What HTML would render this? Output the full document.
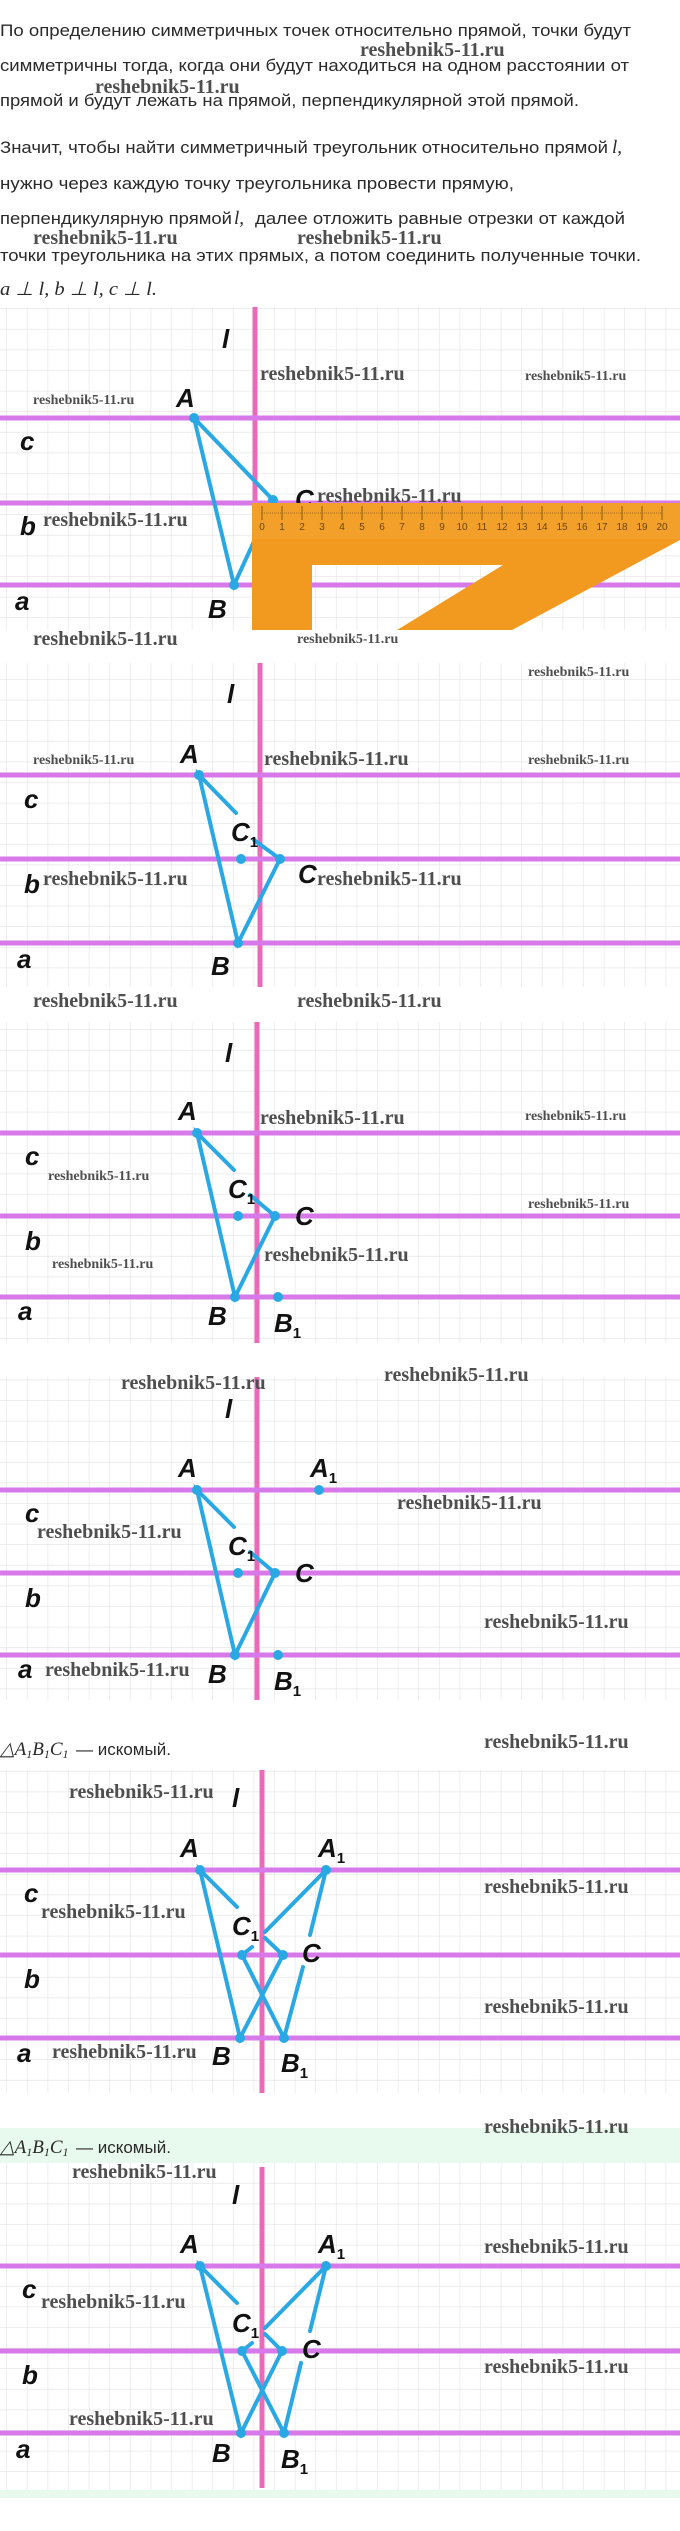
<!DOCTYPE html>
<html><head><meta charset="utf-8"><style>
html,body{margin:0;padding:0;background:#fff;}
svg{display:block;}
.t{font-family:"Liberation Sans",sans-serif;font-size:17px;fill:#2a2a2a;}
.m{font-family:"Liberation Serif",serif;font-style:italic;fill:#2a2a2a;}
.w{font-family:"Liberation Serif",serif;font-weight:bold;fill:#4e4e4e;}
.wb{font-size:20px;}
.ws{font-size:14px;}
.L{font-family:"Liberation Sans",sans-serif;font-style:italic;font-weight:bold;font-size:26px;fill:#111;}
.sub{font-size:15px;font-style:normal;}
.hl{stroke:#d779e8;stroke-width:5;}
.vl{stroke:#ea6ab9;stroke-width:5;}
.bl{stroke:#2aa8e3;stroke-width:4;stroke-linecap:round;fill:none;}
.dot{fill:#2aa8e3;}
</style></head><body>
<svg width="680" height="2531" viewBox="0 0 680 2531" xmlns="http://www.w3.org/2000/svg">
<defs>
<pattern id="g" x="7" y="0" width="20.6" height="20.6" patternUnits="userSpaceOnUse">
<path d="M20.6 0V20.6M0 20.6H20.6" stroke="#e2e2e2" stroke-width="1.2" fill="none"/>
</pattern>
</defs>
<rect width="680" height="2531" fill="#fff"/>
<text class="t" x="0" y="36" textLength="631" lengthAdjust="spacingAndGlyphs">По определению симметричных точек относительно прямой, точки будут</text>
<text class="w wb" x="360" y="56">reshebnik5-11.ru</text>
<text class="t" x="0" y="71" textLength="629" lengthAdjust="spacingAndGlyphs">симметричны тогда, когда они будут находиться на одном расстоянии от</text>
<text class="w wb" x="95" y="93">reshebnik5-11.ru</text>
<text class="t" x="0" y="106" textLength="579" lengthAdjust="spacingAndGlyphs">прямой и будут лежать на прямой, перпендикулярной этой прямой.</text>
<text class="t" x="0" y="153" textLength="608" lengthAdjust="spacingAndGlyphs">Значит, чтобы найти симметричный треугольник относительно прямой</text>
<text class="m" x="612" y="153" font-size="19">l,</text>
<text class="t" x="0" y="189" textLength="514" lengthAdjust="spacingAndGlyphs">нужно через каждую точку треугольника провести прямую,</text>
<text class="t" x="0" y="224" textLength="232" lengthAdjust="spacingAndGlyphs">перпендикулярную прямой</text>
<text class="m" x="234" y="224" font-size="19">l,</text>
<text class="t" x="255" y="224" textLength="370" lengthAdjust="spacingAndGlyphs">далее отложить равные отрезки от каждой</text>
<text class="w wb" x="33" y="244">reshebnik5-11.ru</text>
<text class="w wb" x="297" y="244">reshebnik5-11.ru</text>
<text class="t" x="0" y="261" textLength="641" lengthAdjust="spacingAndGlyphs">точки треугольника на этих прямых, а потом соединить полученные точки.</text>
<text class="m" x="0" y="295" font-size="19" textLength="157" lengthAdjust="spacingAndGlyphs">a ⊥ l, b ⊥ l, c ⊥ l.</text>

<!-- PANEL 1 -->
<rect x="0" y="307" width="680" height="323" fill="url(#g)"/>
<line class="vl" x1="255" y1="307" x2="255" y2="630"/>
<line class="hl" x1="0" y1="418" x2="680" y2="418"/>
<line class="hl" x1="0" y1="503" x2="680" y2="503"/>
<line class="hl" x1="0" y1="585" x2="680" y2="585"/>
<polyline class="bl" points="194,418 234,585 273,500 194,418"/>
<circle class="dot" cx="194" cy="418" r="5"/><circle class="dot" cx="234" cy="585" r="5"/><circle class="dot" cx="273" cy="500" r="5"/>
<text class="L" x="222" y="348">l</text>
<text class="L" x="176" y="407">A</text>
<text class="L" x="20" y="450">c</text>
<text class="L" x="295" y="508">C</text>
<text class="L" x="20" y="535">b</text>
<text class="L" x="15" y="610">a</text>
<text class="L" x="208" y="618">B</text>
<polygon points="252,503 680,503 680,540 512,630 397,630 503,565 312,565 312,630 252,630" fill="#f29a1f"/>
<rect x="252" y="503" width="428" height="36" fill="#f3a02a"/>
<path d="M262 506V520M282 506V520M302 506V520M322 506V520M342 506V520M362 506V520M382 506V520M402 506V520M422 506V520M442 506V520M462 506V520M482 506V520M502 506V520M522 506V520M542 506V520M562 506V520M582 506V520M602 506V520M622 506V520M642 506V520M662 506V520" stroke="#8a5a10" stroke-width="1"/>
<path d="M262 513H662" stroke="#a86c15" stroke-width="1" stroke-dasharray="1 1"/>
<g font-family="Liberation Sans,sans-serif" font-size="10" fill="#6a4508" text-anchor="middle">
<text x="262" y="530">0</text><text x="282" y="530">1</text><text x="302" y="530">2</text><text x="322" y="530">3</text><text x="342" y="530">4</text><text x="362" y="530">5</text><text x="382" y="530">6</text><text x="402" y="530">7</text><text x="422" y="530">8</text><text x="442" y="530">9</text><text x="462" y="530">10</text><text x="482" y="530">11</text><text x="502" y="530">12</text><text x="522" y="530">13</text><text x="542" y="530">14</text><text x="562" y="530">15</text><text x="582" y="530">16</text><text x="602" y="530">17</text><text x="622" y="530">18</text><text x="642" y="530">19</text><text x="662" y="530">20</text>
</g>
<text class="w wb" x="260" y="380">reshebnik5-11.ru</text>
<text class="w ws" x="525" y="380">reshebnik5-11.ru</text>
<text class="w ws" x="33" y="404">reshebnik5-11.ru</text>
<text class="w wb" x="317" y="502">reshebnik5-11.ru</text>
<text class="w wb" x="43" y="526">reshebnik5-11.ru</text>
<text class="w wb" x="33" y="645">reshebnik5-11.ru</text>
<text class="w ws" x="297" y="643">reshebnik5-11.ru</text>

<!-- PANEL 2 -->
<rect x="0" y="663" width="680" height="324" fill="url(#g)"/>
<line class="vl" x1="260" y1="663" x2="260" y2="987"/>
<line class="hl" x1="0" y1="775" x2="680" y2="775"/>
<line class="hl" x1="0" y1="859" x2="680" y2="859"/>
<line class="hl" x1="0" y1="943" x2="680" y2="943"/>
<polyline class="bl" points="236,813 199,775 238,943 280,859 254,840"/>
<circle class="dot" cx="199" cy="775" r="5"/><circle class="dot" cx="238" cy="943" r="5"/><circle class="dot" cx="280" cy="859" r="5"/><circle class="dot" cx="241" cy="859" r="5"/>
<text class="L" x="227" y="703">l</text>
<text class="L" x="180" y="763">A</text>
<text class="L" x="24" y="808">c</text>
<text class="L" x="231" y="841">C<tspan class="sub" dy="6">1</tspan></text>
<text class="L" x="298" y="883">C</text>
<text class="L" x="24" y="893">b</text>
<text class="L" x="17" y="968">a</text>
<text class="L" x="211" y="975">B</text>
<text class="w ws" x="528" y="676">reshebnik5-11.ru</text>
<text class="w ws" x="33" y="764">reshebnik5-11.ru</text>
<text class="w wb" x="264" y="765">reshebnik5-11.ru</text>
<text class="w ws" x="528" y="764">reshebnik5-11.ru</text>
<text class="w wb" x="43" y="885">reshebnik5-11.ru</text>
<text class="w wb" x="317" y="885">reshebnik5-11.ru</text>
<text class="w wb" x="33" y="1007">reshebnik5-11.ru</text>
<text class="w wb" x="297" y="1007">reshebnik5-11.ru</text>

<!-- PANEL 3 -->
<rect x="0" y="1022" width="680" height="321" fill="url(#g)"/>
<line class="vl" x1="257" y1="1022" x2="257" y2="1343"/>
<line class="hl" x1="0" y1="1133" x2="680" y2="1133"/>
<line class="hl" x1="0" y1="1216" x2="680" y2="1216"/>
<line class="hl" x1="0" y1="1297" x2="680" y2="1297"/>
<polyline class="bl" points="234,1170 197,1133 235,1297 275,1216 250,1195"/>
<circle class="dot" cx="197" cy="1133" r="5"/><circle class="dot" cx="235" cy="1297" r="5"/><circle class="dot" cx="275" cy="1216" r="5"/><circle class="dot" cx="238" cy="1216" r="5"/><circle class="dot" cx="278" cy="1297" r="5"/>
<text class="L" x="225" y="1062">l</text>
<text class="L" x="178" y="1120">A</text>
<text class="L" x="25" y="1165">c</text>
<text class="L" x="228" y="1198">C<tspan class="sub" dy="6">1</tspan></text>
<text class="L" x="295" y="1225">C</text>
<text class="L" x="25" y="1250">b</text>
<text class="L" x="18" y="1320">a</text>
<text class="L" x="208" y="1325">B</text>
<text class="L" x="274" y="1332">B<tspan class="sub" dy="6">1</tspan></text>
<text class="w wb" x="260" y="1124">reshebnik5-11.ru</text>
<text class="w ws" x="525" y="1120">reshebnik5-11.ru</text>
<text class="w ws" x="48" y="1180">reshebnik5-11.ru</text>
<text class="w ws" x="528" y="1208">reshebnik5-11.ru</text>
<text class="w wb" x="264" y="1261">reshebnik5-11.ru</text>
<text class="w ws" x="52" y="1268">reshebnik5-11.ru</text>

<!-- PANEL 4 -->
<rect x="0" y="1377" width="680" height="323" fill="url(#g)"/>
<line class="vl" x1="257" y1="1377" x2="257" y2="1700"/>
<line class="hl" x1="0" y1="1490" x2="680" y2="1490"/>
<line class="hl" x1="0" y1="1573" x2="680" y2="1573"/>
<line class="hl" x1="0" y1="1655" x2="680" y2="1655"/>
<polyline class="bl" points="234,1527 197,1490 235,1655 275,1573 250,1552"/>
<circle class="dot" cx="197" cy="1490" r="5"/><circle class="dot" cx="235" cy="1655" r="5"/><circle class="dot" cx="275" cy="1573" r="5"/><circle class="dot" cx="238" cy="1573" r="5"/><circle class="dot" cx="278" cy="1655" r="5"/><circle class="dot" cx="319" cy="1490" r="5"/>
<text class="L" x="225" y="1418">l</text>
<text class="L" x="178" y="1477">A</text>
<text class="L" x="310" y="1477">A<tspan class="sub" dy="6">1</tspan></text>
<text class="L" x="25" y="1522">c</text>
<text class="L" x="228" y="1555">C<tspan class="sub" dy="6">1</tspan></text>
<text class="L" x="295" y="1582">C</text>
<text class="L" x="25" y="1607">b</text>
<text class="L" x="18" y="1678">a</text>
<text class="L" x="208" y="1683">B</text>
<text class="L" x="274" y="1690">B<tspan class="sub" dy="6">1</tspan></text>
<text class="w wb" x="121" y="1389">reshebnik5-11.ru</text>
<text class="w wb" x="384" y="1381">reshebnik5-11.ru</text>
<text class="w wb" x="397" y="1509">reshebnik5-11.ru</text>
<text class="w wb" x="37" y="1538">reshebnik5-11.ru</text>
<text class="w wb" x="484" y="1628">reshebnik5-11.ru</text>
<text class="w wb" x="45" y="1676">reshebnik5-11.ru</text>
<text class="w wb" x="484" y="1748">reshebnik5-11.ru</text>
<text class="m" x="0" y="1755" font-size="19">△A<tspan font-size="12" dy="3">1</tspan><tspan dy="-3">B</tspan><tspan font-size="12" dy="3">1</tspan><tspan dy="-3">C</tspan><tspan font-size="12" dy="3">1</tspan></text>
<text class="t" x="76" y="1755" font-size="16">— искомый.</text>

<!-- PANEL 5 -->
<rect x="0" y="1770" width="680" height="323" fill="url(#g)"/>
<line class="vl" x1="262" y1="1770" x2="262" y2="2093"/>
<line class="hl" x1="0" y1="1870" x2="680" y2="1870"/>
<line class="hl" x1="0" y1="1955" x2="680" y2="1955"/>
<line class="hl" x1="0" y1="2038" x2="680" y2="2038"/>
<polyline class="bl" points="237,1907 200,1870 240,2038 283,1955 265,1938"/>
<line class="bl" x1="326" y1="1870" x2="265" y2="1932"/>
<line class="bl" x1="242" y1="1955" x2="252" y2="1947"/>
<line class="bl" x1="326" y1="1870" x2="310" y2="1935"/>
<line class="bl" x1="303" y1="1967" x2="284" y2="2038"/>
<line class="bl" x1="242" y1="1955" x2="284" y2="2038"/>
<circle class="dot" cx="200" cy="1870" r="5"/><circle class="dot" cx="240" cy="2038" r="5"/><circle class="dot" cx="283" cy="1955" r="5"/><circle class="dot" cx="242" cy="1955" r="5"/><circle class="dot" cx="284" cy="2038" r="5"/><circle class="dot" cx="326" cy="1870" r="5"/>
<text class="L" x="232" y="1807">l</text>
<text class="L" x="180" y="1857">A</text>
<text class="L" x="318" y="1857">A<tspan class="sub" dy="6">1</tspan></text>
<text class="L" x="24" y="1902">c</text>
<text class="L" x="232" y="1935">C<tspan class="sub" dy="6">1</tspan></text>
<text class="L" x="302" y="1962">C</text>
<text class="L" x="24" y="1988">b</text>
<text class="L" x="17" y="2062">a</text>
<text class="L" x="212" y="2065">B</text>
<text class="L" x="281" y="2072">B<tspan class="sub" dy="6">1</tspan></text>
<text class="w wb" x="69" y="1798">reshebnik5-11.ru</text>
<text class="w wb" x="484" y="1893">reshebnik5-11.ru</text>
<text class="w wb" x="41" y="1918">reshebnik5-11.ru</text>
<text class="w wb" x="484" y="2013">reshebnik5-11.ru</text>
<text class="w wb" x="52" y="2058">reshebnik5-11.ru</text>

<!-- PANEL 6 -->
<rect x="0" y="2128" width="680" height="370" fill="#e8f9ee"/>
<text class="w wb" x="484" y="2133">reshebnik5-11.ru</text>
<text class="m" x="0" y="2153" font-size="19">△A<tspan font-size="12" dy="3">1</tspan><tspan dy="-3">B</tspan><tspan font-size="12" dy="3">1</tspan><tspan dy="-3">C</tspan><tspan font-size="12" dy="3">1</tspan></text>
<text class="t" x="76" y="2153" font-size="16">— искомый.</text>
<rect x="0" y="2163" width="680" height="327" fill="#fff"/>
<rect x="0" y="2163" width="680" height="327" fill="url(#g)"/>
<line class="vl" x1="262" y1="2167" x2="262" y2="2488"/>
<line class="hl" x1="0" y1="2266" x2="680" y2="2266"/>
<line class="hl" x1="0" y1="2351" x2="680" y2="2351"/>
<line class="hl" x1="0" y1="2433" x2="680" y2="2433"/>
<polyline class="bl" points="237,2303 200,2266 241,2433 282,2351 265,2334"/>
<line class="bl" x1="326" y1="2266" x2="265" y2="2328"/>
<line class="bl" x1="242" y1="2351" x2="252" y2="2343"/>
<line class="bl" x1="326" y1="2266" x2="310" y2="2331"/>
<line class="bl" x1="301" y1="2363" x2="284" y2="2433"/>
<line class="bl" x1="242" y1="2351" x2="284" y2="2433"/>
<circle class="dot" cx="200" cy="2266" r="5"/><circle class="dot" cx="241" cy="2433" r="5"/><circle class="dot" cx="282" cy="2351" r="5"/><circle class="dot" cx="242" cy="2351" r="5"/><circle class="dot" cx="284" cy="2433" r="5"/><circle class="dot" cx="326" cy="2266" r="5"/>
<text class="L" x="232" y="2204">l</text>
<text class="L" x="180" y="2253">A</text>
<text class="L" x="318" y="2253">A<tspan class="sub" dy="6">1</tspan></text>
<text class="L" x="22" y="2298">c</text>
<text class="L" x="232" y="2332">C<tspan class="sub" dy="6">1</tspan></text>
<text class="L" x="302" y="2358">C</text>
<text class="L" x="22" y="2384">b</text>
<text class="L" x="16" y="2458">a</text>
<text class="L" x="212" y="2462">B</text>
<text class="L" x="281" y="2468">B<tspan class="sub" dy="6">1</tspan></text>
<text class="w wb" x="72" y="2178">reshebnik5-11.ru</text>
<text class="w wb" x="484" y="2253">reshebnik5-11.ru</text>
<text class="w wb" x="41" y="2308">reshebnik5-11.ru</text>
<text class="w wb" x="484" y="2373">reshebnik5-11.ru</text>
<text class="w wb" x="69" y="2425">reshebnik5-11.ru</text>
</svg>
</body></html>
